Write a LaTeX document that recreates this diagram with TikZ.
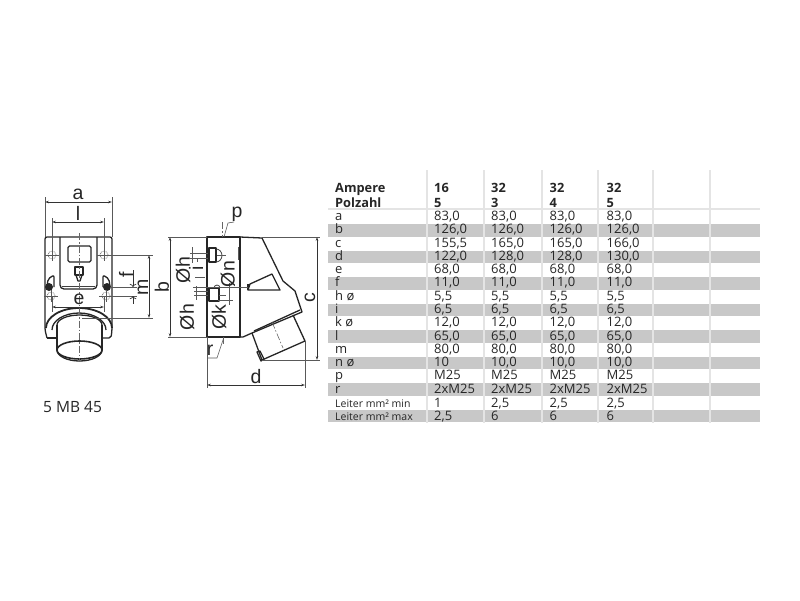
\documentclass[tikz,border=0pt]{standalone}
\usepackage{fontspec}
\setmainfont{Open Sans}
\newfontfamily\dimfont{Liberation Sans}
\usetikzlibrary{arrows.meta}
\definecolor{rowgray}{HTML}{C8C8C8}
\definecolor{gridgray}{HTML}{E4E4E4}
\tikzset{
    part/.style={draw=black!85, line width=1.3pt, line join=round},
    thinpart/.style={draw=black!75, line width=.8pt},
    axisline/.style={draw=black!60, line width=.6pt, dash pattern=on 7pt off 2pt on 1.5pt off 2pt},
    helpline/.style={draw=black!65, line width=.6pt},
    dimline/.style={draw=black!80, line width=.7pt, {Stealth[length=4pt,width=2.6pt]}-{Stealth[length=4pt,width=2.6pt]}},
    dimlabel/.style={font=\dimfont\fontsize{19.5}{20}\selectfont, text=black!85, inner sep=0pt},
    cell/.style={anchor=base west, inner sep=0pt, font=\fontsize{13}{15}\selectfont, text=black!85},
    headcell/.style={cell, font=\fontsize{12.8}{15}\selectfont\bfseries},
    smallcell/.style={cell, font=\fontsize{10.5}{13}\selectfont},
    screw/.style={draw=black!65, line width=.7pt, densely dotted},
}
\begin{document}
\begin{tikzpicture}[x=1pt,y=-1pt]
\useasboundingbox (0,0) rectangle (800,600);

% table
\foreach \r in {1,3,...,15}
    \fill [rowgray] (328,{224+13.27*(\r-1)}) rectangle (760,{236.6+13.27*(\r-1)});
\draw [gridgray, line width=2pt] (328,209)--(760,209);
\foreach \c in {427,484,542,598,653,710}
    \draw [gridgray, line width=2pt] (\c,170)--(\c,423);

\node [headcell] (ampere) at (335,192) {Ampere};
\node [headcell] (polzahl) at (335,207) {Polzahl};
\foreach \c/\x/\ampval/\polval in {1/434/16/5,2/491/32/3,3/549.5/32/4,4/606.5/32/5}{
    \node [headcell] (amp-\c) at (\x,192) {\ampval};
    \node [headcell] (pol-\c) at (\x,207) {\polval};
}
\foreach \name/\va/\vb/\vc/\vd [count=\r from 0] in {
    a/{83,0}/{83,0}/{83,0}/{83,0},
    b/{126,0}/{126,0}/{126,0}/{126,0},
    c/{155,5}/{165,0}/{165,0}/{166,0},
    d/{122,0}/{128,0}/{128,0}/{130,0},
    e/{68,0}/{68,0}/{68,0}/{68,0},
    f/{11,0}/{11,0}/{11,0}/{11,0},
    h ø/{5,5}/{5,5}/{5,5}/{5,5},
    i/{6,5}/{6,5}/{6,5}/{6,5},
    k ø/{12,0}/{12,0}/{12,0}/{12,0},
    l/{65,0}/{65,0}/{65,0}/{65,0},
    m/{80,0}/{80,0}/{80,0}/{80,0},
    n ø/{10}/{10,0}/{10,0}/{10,0},
    p/M25/M25/M25/M25,
    r/2xM25/2xM25/2xM25/2xM25}{
    \node [cell] (row-\r) at (335,{220.6+13.27*\r}) {\name};
    \node [cell] (val-\r-1) at (434,{220.6+13.27*\r}) {\va};
    \node [cell] (val-\r-2) at (491,{220.6+13.27*\r}) {\vb};
    \node [cell] (val-\r-3) at (549.5,{220.6+13.27*\r}) {\vc};
    \node [cell] (val-\r-4) at (606.5,{220.6+13.27*\r}) {\vd};
}
\node [smallcell] (row-min) at (335,407) {Leiter mm² min};
\node [smallcell] (row-max) at (335,420.5) {Leiter mm² max};
\foreach \c/\x/\vmin/\vmax in {1/434/1/{2,5},2/491/{2,5}/6,3/549.5/{2,5}/6,4/606.5/{2,5}/6}{
    \node [cell] (min-\c) at (\x,407) {\vmin};
    \node [cell] (max-\c) at (\x,420.5) {\vmax};
}

\node [cell, font=\fontsize{15.5}{16}\selectfont] (typelabel) at (43,412) {5 MB 45};

% front view
\draw [part, rounded corners=2pt] (47,338)--(45,330)--(45,237)--(112,237)--(112,330)--(111,338)--(103,338);
\draw [part] (47,338)--(56,338);
\draw [part, rounded corners=4pt] (60,237)--(60,289)--(97,289)--(97,237);
\draw [thinpart] (62,286)--(95,286);
\draw [part, rounded corners=1.5pt] (68,246) rectangle (91,262);
\draw [part] (75,267) rectangle (83,275);
\draw [part] (76,275)--(78,281)--(80,281)--(82,275);
\draw [part, rounded corners=2pt] (47,287)--(48,279)--(54,275)--(54,287);
\draw [part, rounded corners=2pt] (110,287)--(109,279)--(103,275)--(103,287);
\fill [black!85] (49,287) circle (4);
\fill [black!85] (107,287) circle (4);
\foreach \x/\y in {52/255,104/255,51/296,106/296}{
    \draw [screw] (\x,\y) circle (4);
    \draw [helpline] (\x-7,\y)--(\x+7,\y) (\x,\y-6)--(\x,\y+6);
}
\draw [part, line width=1.8pt] (46,328) arc (180:360:33 and 20);
\draw [part] (52,330) arc (180:360:27 and 17);
\draw [part] (57,325) arc (180:360:22.5 and 10);
\draw [part] (57,325)--(57,350) (102,325)--(102,350);
\draw [part, line width=1.6pt] (79.5,350) ellipse (22.5 and 9);
\draw [part] (57,350) arc (180:0:22.5 and 11);
\draw [axisline] (79,233)--(79,362);

\draw [helpline] (45,197)--(45,237) (112,197)--(112,237);
\draw [helpline] (52,218)--(52,255) (104,218)--(104,255);
\draw [helpline] (52,296)--(52,312) (104,296)--(104,312);
\draw [helpline] (104,255)--(153,255) (82,318)--(153,318);
\draw [helpline] (110,287)--(137,287) (110,296)--(137,296);
\draw [dimline] (45,202)--(112,202);
\draw [dimline] (52,222)--(104,222);
\draw [dimline] (52,307)--(104,307);
\draw [dimline, <-] (133,287)--(133,270);
\draw [dimline, <-] (133,296)--(133,304);
\draw [dimline] (149,255)--(149,318);
\draw [dimline] (170,237)--(170,337);

\node [dimlabel] (dim-a) at (78,194) {a};
\node [dimlabel] (dim-l) at (78,213) {l};
\node [dimlabel] (dim-e) at (79,299) {e};
\node [dimlabel, rotate=90] (dim-f) at (126,275) {f};
\node [dimlabel, rotate=90] (dim-m) at (143,287) {m};
\node [dimlabel, rotate=90] (dim-b) at (162,287) {b};

% side view
\draw [part] (207,237) rectangle (240,337);
\draw [part] (240,237)--(262,238)--(283,281)--(295,291)--(302,312)--(252,333)--(243,337)--(240,337);
\draw [part] (254,331)--(300,310);
\draw [part] (252,333)--(262,360)--(305,341)--(293,315);
\draw [part] (257,352)--(260,351)--(264,359)--(261,361)--cycle;
\draw [part] (250,284)--(272,274)--(280,290)--(248,290)--cycle;
\draw [part] (248,284)--(248,290);
\draw [axisline] (272,322)--(283,348);
\draw [part] (209,248) rectangle (216,262);
\draw [part] (209,288) rectangle (219,301);
\draw [thinpart] (216,249) arc (-90:90:6 and 6.5);
\draw [thinpart] (214,288) arc (180:360:3 and 3);

\draw [helpline] (168,237)--(207,237) (168,337)--(207,337);
\draw [helpline] (262,237)--(320,237) (262,360)--(320,360);
\draw [helpline] (207,337)--(207,388) (305,341)--(305,388);
\draw [dimline] (317,237)--(317,360);
\draw [dimline] (207,385)--(305,385);

\draw [axisline] (222,222)--(222,237) (223,337)--(223,345);
\draw [helpline] (224,237)--(228,223)--(234,222);
\draw [helpline] (224,337)--(217,358)--(207,358);

\draw [helpline] (190,253)--(208,253) (190,258)--(208,258) (217,255)--(226,255);
\draw [helpline] (194,291)--(208,291) (194,295)--(208,295) (219,295)--(226,295);
\draw [helpline] (193,287)--(248,287) (218,300)--(233,300);
\draw [helpline] (192,247)--(192,263) (196,286)--(196,300);
\draw [helpline] (238,247)--(238,260) (229,283)--(229,305);
\draw [helpline] (195,277)--(205,277);
\draw [helpline] (197,258)--(197,262);

\node [dimlabel, rotate=90] (dim-hup) at (183,270) {Øh};
\node [dimlabel, rotate=90] (dim-hlow) at (187,317) {Øh};
\node [dimlabel, rotate=90] (dim-i) at (196,268) {i};
\node [dimlabel, rotate=90] (dim-n) at (228,274) {Øn};
\node [dimlabel, rotate=90] (dim-k) at (219,317) {Øk};
\node [dimlabel] (dim-p) at (237,214) {p};
\node [dimlabel] (dim-r) at (210,350) {r};
\node [dimlabel, rotate=90] (dim-c) at (310,298) {c};
\node [dimlabel] (dim-d) at (256,377) {d};

\end{tikzpicture}
\end{document}
